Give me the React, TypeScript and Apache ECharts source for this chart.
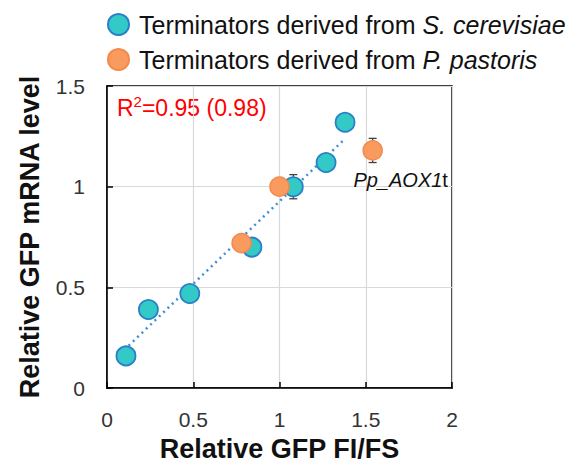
import React, { useEffect, useRef } from 'react';
import * as echarts from 'echarts';

const scerX = [0.11, 0.24, 0.48, 0.84, 1.08, 1.27, 1.38];
const scerY = [0.16, 0.39, 0.47, 0.70, 1.00, 1.12, 1.32];
const ppasX = [0.78, 1.00, 1.54];
const ppasY = [0.72, 1.00, 1.18];
// [x, y, xErr, yErr]
const errorBars = [
  [1.08, 1.00, 0.05, 0.06],
  [1.54, 1.18, 0, 0.06],
  [0.78, 0.72, 0, 0.02],
];
const trendX = [0.10, 1.37];
const trendY = [0.19, 1.23];
const seriesNames = ['Terminators derived from S. cerevisiae', 'Terminators derived from P. pastoris'];
const r2Parts = ['R', '2', '=0.95 (0.98)'];
const FONT = '"Liberation Sans", Arial, sans-serif';

export default function App() {
  const ref = useRef<HTMLDivElement>(null);
  useEffect(() => {
    const chart = echarts.init(ref.current!, null, { renderer: 'svg' });
    const scerData = scerX.map((x, i) => [x, scerY[i]]);
    const ppasData: any[] = ppasX.map((x, i) => [x, ppasY[i]]);
    ppasData[2] = {
      value: ppasData[2],
      label: {
        show: true,
        position: 'bottom',
        offset: [28, 4],
        formatter: '{i|Pp_AOX1}{n|t}',
        rich: {
          i: { fontStyle: 'italic', fontSize: 20, color: '#111', fontFamily: FONT },
          n: { fontSize: 20, color: '#111', fontFamily: FONT },
        },
      },
    };
    chart.setOption({
      animation: false,
      textStyle: { fontFamily: FONT },
      legend: {
        data: seriesNames,
        orient: 'vertical',
        left: 102,
        top: 7,
        itemGap: 10,
        itemWidth: 21,
        itemHeight: 21,
        icon: 'circle',
        formatter: (name: string) => {
          const parts = name.split('from ');
          return `{n|${parts[0]}from }{i|${parts[1]}}`;
        },
        textStyle: {
          rich: {
            n: { fontSize: 25, lineHeight: 30, color: '#111', fontFamily: FONT, padding: [0, 0, 0, 5] },
            i: { fontSize: 25, lineHeight: 30, color: '#111', fontStyle: 'italic', fontFamily: FONT },
          },
        },
      },
      grid: {
        left: 107, top: 86, right: 128, bottom: 72,
        show: true, borderColor: '#000', borderWidth: 1.5, backgroundColor: 'transparent',
      },
      xAxis: {
        type: 'value', min: 0, max: 2, interval: 0.5,
        name: 'Relative GFP FI/FS', nameLocation: 'middle', nameGap: 40,
        nameTextStyle: { fontSize: 27, fontWeight: 'bold', color: '#111', fontFamily: FONT },
        axisLine: { show: true, lineStyle: { color: '#000', width: 1.5 } },
        axisTick: { show: true, inside: true, length: 6, lineStyle: { color: '#000', width: 1.5 } },
        axisLabel: { fontSize: 21, color: '#333', margin: 21, fontFamily: FONT },
        splitLine: { show: true, lineStyle: { color: '#d9d9d9', width: 1.2 } },
      },
      yAxis: {
        type: 'value', min: 0, max: 1.5, interval: 0.5,
        name: 'Relative GFP mRNA level', nameLocation: 'middle', nameGap: 64,
        nameTextStyle: { fontSize: 27, fontWeight: 'bold', color: '#111', fontFamily: FONT },
        axisLine: { show: true, lineStyle: { color: '#000', width: 1.5 } },
        axisTick: { show: true, inside: true, length: 6, lineStyle: { color: '#000', width: 1.5 } },
        axisLabel: { fontSize: 21, color: '#333', margin: 22, fontFamily: FONT },
        splitLine: { show: true, lineStyle: { color: '#d9d9d9', width: 1.2 } },
      },
      graphic: [
        {
          type: 'text', left: 117, top: 94,
          style: {
            text: `{a|${r2Parts[0]}}{s|${r2Parts[1]}}{a|${r2Parts[2]}}`,
            fontFamily: FONT,
            rich: {
              a: { fontSize: 23, lineHeight: 28, fill: '#ff0000', fontFamily: FONT },
              s: { fontSize: 15, lineHeight: 28, verticalAlign: 'top', fill: '#ff0000', fontFamily: FONT },
            },
          },
        },
      ],
      series: [
        {
          type: 'line', data: trendX.map((x, i) => [x, trendY[i]]),
          symbol: 'none', z: 1,
          lineStyle: { color: '#3d8fd6', width: 2.5, type: [2, 4] },
        },
        {
          type: 'custom', z: 2,
          data: errorBars,
          renderItem: (params: any, api: any) => {
            const x = api.value(0), y = api.value(1), ex = api.value(2), ey = api.value(3);
            const children: any[] = [];
            const st = { stroke: '#404040', lineWidth: 1.3 };
            const cap = 4;
            if (ey > 0) {
              const top = api.coord([x, y + ey]);
              const bot = api.coord([x, y - ey]);
              children.push({ type: 'line', shape: { x1: top[0], y1: top[1], x2: bot[0], y2: bot[1] }, style: st });
              children.push({ type: 'line', shape: { x1: top[0] - cap, y1: top[1], x2: top[0] + cap, y2: top[1] }, style: st });
              children.push({ type: 'line', shape: { x1: bot[0] - cap, y1: bot[1], x2: bot[0] + cap, y2: bot[1] }, style: st });
            }
            if (ex > 0) {
              const l = api.coord([x - ex, y]);
              const r = api.coord([x + ex, y]);
              children.push({ type: 'line', shape: { x1: l[0], y1: l[1], x2: r[0], y2: r[1] }, style: st });
              children.push({ type: 'line', shape: { x1: l[0], y1: l[1] - cap, x2: l[0], y2: l[1] + cap }, style: st });
              children.push({ type: 'line', shape: { x1: r[0], y1: r[1] - cap, x2: r[0], y2: r[1] + cap }, style: st });
            }
            return { type: 'group', children };
          },
        },
        {
          name: seriesNames[0], type: 'scatter', data: scerData, symbolSize: 19, z: 3,
          itemStyle: { color: '#33c9c6', borderColor: '#2a7fc9', borderWidth: 1.8, opacity: 1 },
        },
        {
          name: seriesNames[1], type: 'scatter', data: ppasData, symbolSize: 19, z: 4,
          itemStyle: { color: '#f99a5f', borderColor: '#f38a4a', borderWidth: 1.5, opacity: 1 },
        },
      ],
    });
    return () => chart.dispose();
  }, []);
  return <div ref={ref} style={{ position: 'absolute', left: 0, top: 0, width: 580, height: 467 }} />;
}
